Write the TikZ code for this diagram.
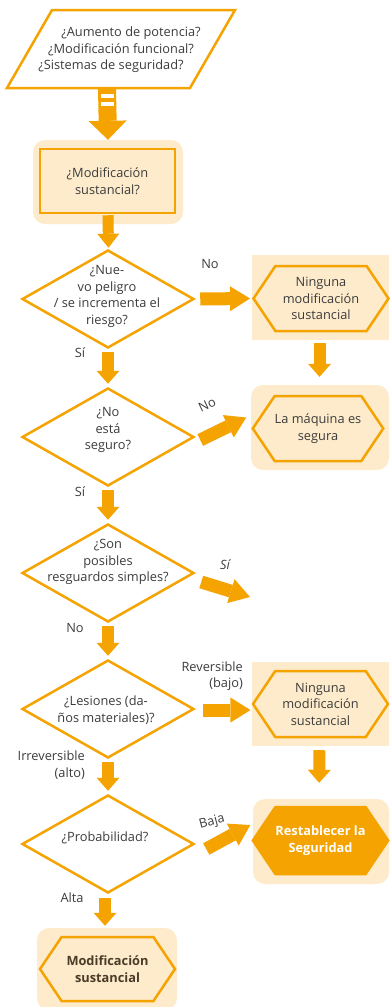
\documentclass[tikz,border=0pt]{standalone}
\usepackage{fontspec}
\setmainfont{Open Sans}
\usetikzlibrary{shapes.geometric,shapes.symbols,arrows.meta,calc}
\definecolor{org}{HTML}{F4A300}
\definecolor{crm}{HTML}{FDEBCB}
\definecolor{txt}{HTML}{3C3C3C}
\definecolor{btxt}{HTML}{4A3C28}
\newcommand{\fs}{\fontsize{12.8}{16.4}\selectfont}
\begin{document}
\begin{tikzpicture}[x=1pt,y=-1pt,
 every node/.style={font=\fs, text=txt},
 txtnode/.style={align=center, inner sep=0pt},
 bgbox/.style={fill=crm, draw=none, rounded corners=12pt, inner sep=0pt},
 sqbox/.style={fill=crm, draw=none, inner sep=0pt},
 dia/.style={diamond, draw=org, line width=2.5pt, fill=white, inner sep=0pt},
 hexa/.style={signal, signal to=east and west, draw=org, line width=2.5pt, fill=crm, inner sep=0pt, signal pointer angle=112, align=center},
 toparr/.style={line width=18pt, draw=org, -{Triangle[width=38pt,length=19pt,line width=0pt]}},
 varr/.style={line width=12pt, draw=org, -{Triangle[width=23pt,length=13pt,line width=0pt]}},
 harr/.style={line width=13pt, draw=org, -{Triangle[width=25pt,length=20pt,line width=0pt]}},
 lab/.style={inner sep=0pt}
]
\useasboundingbox (0,0) rectangle (389,1007);
% backgrounds
\node[bgbox, minimum width=150pt, minimum height=84pt] (b0) at (108,182) {};
\node[sqbox, minimum width=137pt, minimum height=85pt] (b1) at (320.5,297.5) {};
\node[bgbox, minimum width=138pt, minimum height=85pt] (b2) at (320,427.5) {};
\node[sqbox, minimum width=137pt, minimum height=84pt] (b3) at (320.5,704) {};
\node[bgbox, minimum width=136pt, minimum height=85pt] (b4) at (321,841.5) {};
\node[bgbox, minimum width=140pt, minimum height=82pt] (b5) at (107,969) {};
% start parallelogram
\draw[draw=org, line width=2.5pt, fill=white, line join=miter] (52,10) -- (235,10) -- (190,88) -- (7,88) -- cycle;
\node[txtnode] (q0) at (121,50) {\hspace*{20pt}¿Aumento de potencia?\\¿Modificación funcional?\\¿Sistemas de seguridad?\hspace*{20pt}};
\coordinate (p0) at (107,88);
% box
\node[draw=org, line width=2.5pt, fill=crm, minimum width=135pt, minimum height=64pt, txtnode] (r1) at (107.5,181) {¿Modificación\\sustancial?};
% diamonds
\node[dia, minimum width=172pt, minimum height=98pt] (d1) at (108,299) {};
\node[txtnode] (t1) at (107,296.5) {¿Nue-\\vo peligro\\/ se incrementa el\\riesgo?};
\node[dia, minimum width=172pt, minimum height=98pt] (d2) at (108,437) {};
\node[txtnode] (t2) at (108,430) {¿No\\está\\seguro?};
\node[dia, minimum width=172pt, minimum height=98pt] (d3) at (108,573) {};
\node[txtnode] (t3) at (108,562) {¿Son\\posibles\\resguardos simples?};
\node[dia, minimum width=172pt, minimum height=98pt] (d4) at (108,709) {};
\node[txtnode] (t4) at (106,710) {¿Lesiones (da-\\ños materiales)?};
\node[dia, minimum width=172pt, minimum height=98pt] (d5) at (108,844) {};
\node[txtnode] (t5) at (105,838) {¿Probabilidad?};
% hexagons
\node[hexa, minimum width=135pt, minimum height=65pt] (h1) at (321,298.5) {Ninguna\\modificación\\sustancial};
\node[hexa, minimum width=130pt, minimum height=65pt] (h2) at (318,428.5) {La máquina es\\segura};
\node[hexa, minimum width=135pt, minimum height=66pt] (h3) at (320.5,704) {Ninguna\\modificación\\sustancial};
\node[hexa, minimum width=135pt, minimum height=67pt, fill=org, text=white, font=\fs\bfseries] (h4) at (320.5,840.5) {Restablecer la\\Seguridad};
\node[hexa, minimum width=135pt, minimum height=64pt, text=btxt, font=\fs\bfseries] (h5) at (107.5,969) {Modificación\\sustancial};
% arrows
\draw[toparr] (p0) -- (b0.north);
\fill[white] (101,93.5) rectangle (114,97.5);
\fill[white] (101,101.5) rectangle (114,105.5);
\draw[line width=11pt, draw=org, -{Triangle[width=22pt,length=14pt,line width=0pt]}, shorten >=1pt] ($(r1.south)+(0.5,1)$) -- ($(d1.north)+(0.5,0)$);
\draw[varr, shorten <=3pt, shorten >=3pt] (d1.south) -- (d2.north);
\draw[varr, shorten <=3pt, shorten >=3pt] (d2.south) -- (d3.north);
\draw[varr, shorten <=3pt, shorten >=3pt] (d3.south) -- (d4.north);
\draw[varr, shorten <=3pt, shorten >=3pt] (d4.south) -- (d5.north);
\draw[varr, shorten <=4pt, shorten >=2pt] ($(d5.south)+(-3,0)$) -- ($(b5.north)+(-2,0)$);
\draw[varr, shorten <=3pt, shorten >=8pt] ($(b1.south)+(-1,0)$) -- ($(b2.north)+(-0.5,0)$);
\draw[varr, shorten <=4pt, shorten >=16pt] ($(b3.south)+(-1,0)$) -- ($(b4.north)+(-2,0)$);
\draw[harr] ($(d1.east)+(5,0)$) -- ($(h1.west)+(-2,0)$);
\draw[harr] ($(d2.east)+(5,3)$) -- ($(h2.west)+(-5,-11)$);
\coordinate (s3) at (250,597);
\draw[harr] ($(d3.east)+(6,9)$) -- (s3);
\draw[harr] ($(d4.east)+(8,1)$) -- ($(h3.west)+(-1,6)$);
\draw[harr] ($(d5.east)+(11,5)$) -- ($(h4.west)+(-1,-15.5)$);
% labels
\node[lab] (l1) at (210,264) {No};
\node[lab] (l2) at (80,353) {Sí};
\node[lab, rotate=25] (l3) at (207,405) {No};
\node[lab] (l4) at (80,492) {Sí};
\node[lab, font=\fs\itshape] (l5) at (225,565) {Sí};
\node[lab] (l6) at (75,628) {No};
\node[lab, align=right, anchor=east] (l7) at (243,676) {Reversible\\(bajo)};
\node[lab, align=right, anchor=east] (l8) at (85,765) {Irreversible\\(alto)};
\node[lab, rotate=15] (l9) at (212,822) {Baja};
\node[lab] (l10) at (72,898) {Alta};
\end{tikzpicture}
\end{document}
